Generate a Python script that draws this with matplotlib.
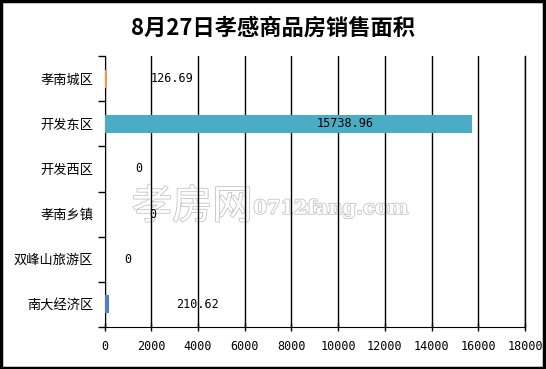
import numpy as np
import matplotlib.pyplot as plt
import matplotlib.patheffects as pe
from matplotlib.patches import Rectangle

plt.rcParams['font.family'] = ['Noto Sans CJK SC', 'DejaVu Sans']

# data, bottom to top
areas = ['南大经济区', '双峰山旅游区', '孝南乡镇', '开发西区', '开发东区', '孝南城区']
values = [210.62, 0, 0, 0, 15738.96, 126.69]
labels = ['210.62', '0', '0', '0', '15738.96', '126.69']
label_x = [4000, 1000, 2080, 1480, 10300, 2890]
colors = ['#4F81BD', '#C0504D', '#9BBB59', '#8064A2', '#4BACC6', '#F79646']
xticks = np.arange(0, 18001, 2000)

fig = plt.figure(figsize=(5.46, 3.69), dpi=100)
ax = fig.add_axes([0.1914, 0.1138, 0.7701, 0.7344])
ax.set_facecolor('none')

y = np.arange(len(areas))
ax.barh(y, values, height=0.4, color=colors, zorder=3)
for i in range(len(areas)):
    ax.text(label_x[i], y[i], labels[i], ha='center', va='center', fontsize=8.5,
            family=['DejaVu Sans Mono', 'DejaVu Sans'], zorder=4)

ax.set_xlim(0, 18000)
ax.set_ylim(-0.5, len(areas) - 0.5)
ax.set_xticks(xticks)
ax.set_xticklabels([str(v) for v in xticks], fontsize=8.5, family=['DejaVu Sans Mono'])
ax.set_yticks(y)
ax.set_yticklabels(areas, fontsize=9.5)
ax.set_yticks(np.arange(-0.5, len(areas)), minor=True)
ax.tick_params(axis='y', which='major', length=0, pad=8)
ax.tick_params(axis='y', which='minor', length=5, width=1, direction='out')
ax.tick_params(axis='x', length=6, width=1, direction='inout', pad=6)
ax.grid(axis='x', color='black', linewidth=1, zorder=1)
ax.spines['top'].set_visible(False)
ax.spines['right'].set_linewidth(1)

fig.text(0.5, 0.925, '8月27日孝感商品房销售面积', ha='center', va='center',
         fontsize=16, fontweight='bold')

# watermark (outline only, drawn beneath the axes contents)
wm = [pe.withStroke(linewidth=1.2, foreground='#c4c4c4')]
fig.text(0.352, 0.439, '孝房网', ha='center', va='center', fontsize=29,
         color='white', zorder=-1, path_effects=wm)
fig.text(0.464, 0.434, '0712fang.com', ha='left', va='center', fontsize=14,
         color='white', fontweight='bold', family=['DejaVu Serif'], zorder=-1,
         path_effects=wm)

fig.patches.append(Rectangle((0.002, 0.003), 0.994, 0.994, transform=fig.transFigure,
                             fill=False, edgecolor='black', linewidth=2.5))

fig.savefig('out.png', dpi=100)
